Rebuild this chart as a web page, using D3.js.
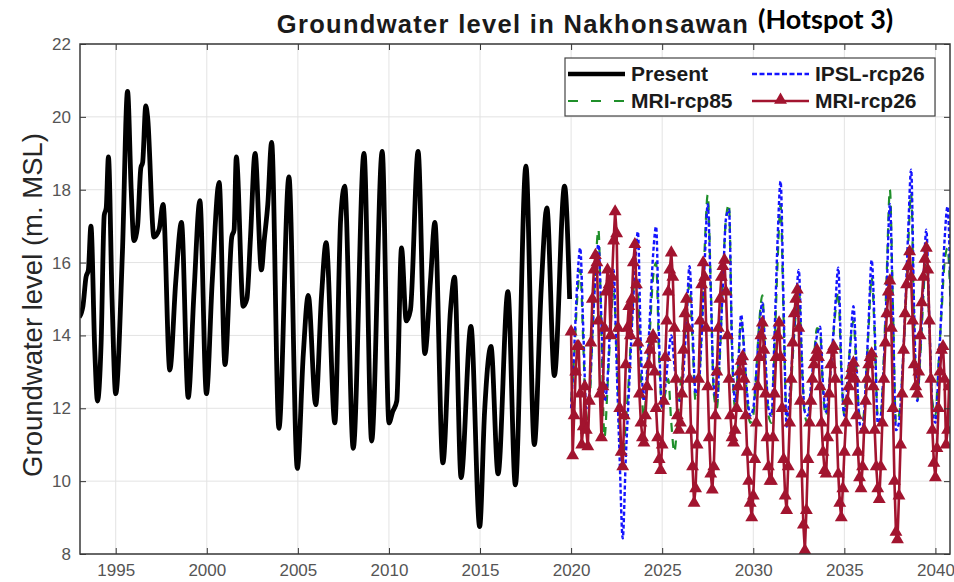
<!DOCTYPE html>
<html>
<head>
<meta charset="utf-8">
<script src="https://cdn.jsdelivr.net/npm/d3@7"></script>
<style>
    body { margin: 0; background: #fff; }
    #chart-div { width: 954px; height: 582px; }
</style>
</head>
<body>
<div id="chart-div"></div>
<script>
//---------------------------------//
// Data      //
//---------------------------------//

// observed record, turning points of the monthly series
const presentYears = [
    1993.0, 1993.2, 1993.37, 1993.5, 1993.64, 1993.85, 1994.0, 1994.2, 1994.37, 1994.48,
    1994.6, 1994.8, 1995.0, 1995.37, 1995.65, 1995.85, 1996.0, 1996.2, 1996.38, 1996.48,
    1996.65, 1996.75, 1997.1, 1997.38, 1997.6, 1997.97, 1998.3, 1998.61, 1998.98, 1999.3,
    1999.62, 1999.98, 2000.3, 2000.68, 2001.0, 2001.37, 2001.5, 2001.62, 2002.0, 2002.2,
    2002.4, 2002.65, 2003.0, 2003.15, 2003.35, 2003.56, 2003.96, 2004.51, 2004.97, 2005.3,
    2005.57, 2005.98, 2006.3, 2006.55, 2007.03, 2007.35, 2007.57, 2008.04, 2008.63, 2009.05,
    2009.63, 2010.0, 2010.2, 2010.43, 2010.69, 2010.95, 2011.18, 2011.6, 2011.97, 2012.28,
    2012.52, 2012.96, 2013.38, 2013.6, 2013.96, 2014.5, 2014.98, 2015.25, 2015.6, 2015.99,
    2016.53, 2016.94, 2017.52, 2017.98, 2018.36, 2018.67, 2019.08, 2019.64, 2019.92
];
const presentLevels = [
    14.5, 14.8, 15.6, 15.8, 17.0, 13.6, 12.2, 13.8, 17.3, 17.5,
    18.9, 15.0, 12.4, 16.3, 20.7, 18.0, 16.6, 17.0, 18.6, 18.75,
    20.3, 20.0, 16.7, 16.9, 17.6, 13.05, 15.5, 17.1, 12.3, 15.2,
    17.7, 12.4, 15.5, 18.2, 13.2, 16.7, 16.9, 18.9, 14.8, 15.0,
    16.7, 19.0, 15.8, 16.6, 17.6, 19.3, 11.45, 18.35, 10.35, 13.5,
    15.1, 12.1, 15.1, 16.55, 11.6, 17.2, 18.1, 10.9, 19.0, 11.1,
    19.05, 11.6, 11.9, 12.2, 16.4, 14.4, 14.7, 19.05, 13.5, 15.5,
    17.1, 10.5, 14.7, 15.6, 10.1, 14.25, 8.75, 11.9, 13.7, 10.2,
    15.2, 9.9, 18.65, 11.0, 15.3, 17.5, 12.9, 18.1, 15.0
];

const projStart = 2020;

// MRI-rcp26, monthly from Jan 2020 (one row per year)
const mriRcp26 = [
    14.1, 10.7, 11.8, 13.0, 13.7, 13.7, 12.4, 11.0, 11.5, 12.6, 11.4, 10.95,
    12.2, 13.8, 15.0, 15.8, 16.2, 16.0, 14.4, 12.4, 11.2, 12.6, 14.2, 15.2,
    15.8, 15.4, 14.0, 15.6, 16.6, 17.4, 16.8, 14.2, 12.0, 10.8, 10.4, 11.8,
    13.2, 14.2, 14.8, 14.0, 15.0, 16.0, 16.5, 15.4, 13.8, 12.4, 11.6, 11.2,
    11.05, 11.8, 12.6, 13.2, 13.6, 13.9, 14.0, 13.0, 12.0, 11.2, 10.6, 10.3,
    11.0, 12.2, 13.4, 14.4, 15.2, 15.8, 16.27, 15.6, 14.2, 12.8, 11.8, 11.4,
    11.6, 12.4, 13.6, 14.6, 15.0, 14.2, 12.8, 11.4, 10.4, 9.4, 9.8, 11.0,
    12.8, 14.4, 15.4, 16.0, 15.6, 14.2, 12.6, 11.2, 10.2, 9.76, 10.4, 11.8,
    13.0, 14.2, 15.0, 15.6, 15.9, 16.07, 15.2, 14.0, 12.8, 11.8, 11.2, 11.05,
    11.4, 12.0, 12.6, 13.0, 13.3, 13.42, 12.8, 11.8, 10.8, 10.0, 9.4, 9.0,
    9.6, 10.6, 11.6, 12.6, 13.4, 14.0, 14.35, 13.6, 12.4, 11.2, 10.4, 10.0,
    10.0, 11.2, 12.4, 13.4, 14.0, 14.35, 13.4, 12.0, 10.6, 9.6, 9.2, 10.4,
    11.6, 12.8, 13.8, 14.6, 15.0, 15.25, 14.2, 12.2, 10.2, 8.8, 8.1, 9.2,
    10.6, 11.6, 12.2, 12.8, 13.2, 13.4, 13.6, 13.4, 12.6, 11.6, 10.8, 10.3,
    10.2, 11.2, 12.4, 13.2, 13.6, 13.7, 12.8, 11.4, 10.2, 9.4, 9.0, 9.8,
    10.8, 11.6, 12.2, 12.6, 12.9, 13.1, 13.25, 12.8, 11.8, 10.8, 10.1, 9.8,
    10.4, 11.4, 12.2, 12.8, 13.2, 13.4, 13.5, 12.6, 11.4, 10.4, 9.8, 9.5,
    10.4, 11.6, 12.8, 13.8, 14.6, 15.2, 15.5, 14.2, 12.0, 10.0, 8.6, 8.4,
    9.6, 11.0, 12.4, 13.6, 14.6, 15.4, 15.9, 16.3, 15.6, 14.4, 13.2, 12.6,
    12.4, 13.0, 14.0, 14.9, 15.6, 16.1, 16.4, 15.8, 14.4, 12.8, 11.4, 10.5,
    10.1, 10.9, 12.0, 13.0, 13.6, 13.7, 12.8, 11.0, 11.4, 12.6
];

// IPSL-rcp26 and MRI-rcp85, every two months from Jan 2020
const ipslRcp26 = [
    12.0, 13.6, 15.4, 16.4, 14.2, 12.0,
    12.4, 14.0, 15.6, 16.5, 14.4, 12.2,
    12.8, 14.6, 15.8, 13.2, 10.6, 8.43,
    10.6, 12.4, 14.2, 15.8, 16.85, 13.6,
    12.2, 13.0, 14.6, 16.2, 16.99, 13.8,
    12.0, 12.6, 13.4, 14.0, 13.2, 12.4,
    12.2, 13.0, 14.4, 15.9, 14.2, 12.4,
    12.6, 14.0, 16.0, 17.6, 15.2, 12.6,
    12.2, 13.6, 15.4, 17.2, 17.45, 13.8,
    12.2, 13.0, 14.57, 13.6, 12.4, 11.8,
    12.0, 13.0, 14.2, 14.9, 13.4, 12.0,
    11.8, 14.0, 16.6, 18.23, 14.8, 11.5,
    12.4, 13.6, 14.8, 15.8, 13.4, 11.9,
    11.8, 12.6, 13.4, 14.0, 14.24, 12.6,
    11.9, 12.6, 13.6, 14.8, 15.86, 13.2,
    11.8, 12.6, 13.8, 14.8, 13.2, 11.6,
    11.4, 12.6, 14.4, 16.07, 14.2, 11.6,
    11.8, 13.2, 15.4, 17.6, 14.6, 11.4,
    11.6, 12.8, 14.6, 16.8, 18.55, 14.6,
    12.2, 13.6, 15.4, 16.9, 14.4, 12.0,
    11.6, 13.0, 14.8, 16.6, 17.54, 15.0
];
const mriRcp85 = [
    12.2, 13.4, 15.0, 15.8, 13.8, 11.6,
    12.0, 14.0, 15.8, 16.9, 14.0, 11.2,
    12.6, 14.2, 15.2, 13.6, 11.4, 10.6,
    11.6, 12.8, 14.4, 15.6, 15.2, 12.8,
    11.8, 12.8, 14.2, 15.6, 16.0, 13.4,
    12.0, 12.4, 12.8, 11.6, 10.8, 11.6,
    12.6, 13.4, 14.6, 15.4, 13.8, 12.2,
    12.6, 14.2, 16.4, 17.86, 15.4, 12.4,
    12.0, 13.4, 15.6, 17.2, 17.6, 13.6,
    12.0, 13.2, 14.4, 13.6, 12.2, 11.6,
    11.8, 13.0, 14.4, 15.1, 13.2, 11.8,
    11.6, 13.6, 16.0, 17.6, 14.4, 11.8,
    12.0, 13.4, 14.6, 15.4, 13.2, 11.8,
    11.6, 12.4, 13.4, 14.2, 14.1, 12.4,
    11.8, 12.6, 13.6, 14.6, 15.2, 13.0,
    11.8, 12.8, 13.8, 14.4, 13.0, 11.8,
    11.6, 12.6, 14.2, 15.6, 14.0, 11.8,
    11.8, 13.4, 15.8, 18.0, 14.8, 11.6,
    11.8, 12.8, 14.4, 16.4, 17.9, 14.2,
    12.2, 13.4, 15.0, 16.4, 14.2, 12.2,
    11.8, 13.2, 14.6, 16.0, 16.4, 14.8
];

const xTicks = [1995, 2000, 2005, 2010, 2015, 2020, 2025, 2030, 2035, 2040];
const yTicks = [8, 10, 12, 14, 16, 18, 20, 22];
const legendNames = ['Present', 'IPSL-rcp26', 'MRI-rcp85', 'MRI-rcp26'];


//---------------------------------//
// Chart Object                    //
//---------------------------------//

window.Vis = window.Vis || {};

Vis.init = function() {
    Vis.setup.initConsts();
    Vis.setup.initSvg();
    Vis.setup.initScales();

    Vis.core.drawGrid();
    Vis.core.drawSeries();
    Vis.core.drawAxes();
    Vis.core.drawLegend();
    Vis.core.drawText();
};

Vis.core = {
    drawGrid: function() {
        let g = Vis.svg.append('g').attr('class', 'grid');
        g.selectAll('.gx').data(xTicks).enter().append('line')
            .attr('x1', d => Vis.x(d)).attr('x2', d => Vis.x(d))
            .attr('y1', Vis.top).attr('y2', Vis.bottom)
            .attr('stroke', '#e3e3e3').attr('stroke-width', 1);
        g.selectAll('.gy').data(yTicks).enter().append('line')
            .attr('x1', Vis.left).attr('x2', Vis.right)
            .attr('y1', d => Vis.y(d)).attr('y2', d => Vis.y(d))
            .attr('stroke', '#e3e3e3').attr('stroke-width', 1);
    },

    drawSeries: function() {
        let plot = Vis.svg.append('g').attr('clip-path', 'url(#plot-clip)');

        let present = presentYears.map((t, i) => [t, presentLevels[i]]);
        let rcp85 = mriRcp85.map((v, i) => [projStart + i/6, v]);
        let ipsl = ipslRcp26.map((v, i) => [projStart + i/6, v]);
        let mri26 = mriRcp26.map((v, i) => [projStart + i/12, v]);

        let smooth = d3.line().x(d => Vis.x(d[0])).y(d => Vis.y(d[1])).curve(d3.curveMonotoneX);
        let straight = d3.line().x(d => Vis.x(d[0])).y(d => Vis.y(d[1]));

        plot.append('path').datum(present).attr('d', smooth)
            .attr('fill', 'none').attr('stroke', Vis.colors.present)
            .attr('stroke-width', 4.8).attr('stroke-linejoin', 'round');

        plot.append('path').datum(rcp85).attr('d', smooth)
            .attr('fill', 'none').attr('stroke', Vis.colors.rcp85)
            .attr('stroke-width', 2.2).attr('stroke-dasharray', '9,7');

        plot.append('path').datum(ipsl).attr('d', smooth)
            .attr('fill', 'none').attr('stroke', Vis.colors.ipsl)
            .attr('stroke-width', 2.4).attr('stroke-dasharray', '4,2.5');

        plot.append('path').datum(mri26).attr('d', straight)
            .attr('fill', 'none').attr('stroke', Vis.colors.mri26)
            .attr('stroke-width', 2.6);

        plot.selectAll('.tri').data(mri26).enter().append('path')
            .attr('d', Vis.triangle)
            .attr('transform', d => 'translate(' + Vis.x(d[0]) + ',' + Vis.y(d[1]) + ')')
            .attr('fill', Vis.colors.mri26);
    },

    drawAxes: function() {
        let axisStyle = function(g) {
            g.select('.domain').remove();
            g.selectAll('.tick line').attr('stroke', '#333').attr('stroke-width', 1);
            g.selectAll('.tick text')
                .attr('fill', '#555')
                .attr('font-family', 'Liberation Sans, Arial, sans-serif')
                .attr('font-size', 17);
        };

        Vis.svg.append('g')
            .attr('transform', 'translate(0,' + Vis.bottom + ')')
            .call(d3.axisBottom(Vis.x).tickValues(xTicks).tickFormat(d3.format('d')).tickSize(-6).tickPadding(10))
            .call(axisStyle);
        Vis.svg.append('g')
            .attr('transform', 'translate(0,' + Vis.top + ')')
            .call(d3.axisTop(Vis.x).tickValues(xTicks).tickFormat('').tickSize(-6))
            .call(axisStyle);
        Vis.svg.append('g')
            .attr('transform', 'translate(' + Vis.left + ',0)')
            .call(d3.axisLeft(Vis.y).tickValues(yTicks).tickSize(-6).tickPadding(9))
            .call(axisStyle);
        Vis.svg.append('g')
            .attr('transform', 'translate(' + Vis.right + ',0)')
            .call(d3.axisRight(Vis.y).tickValues(yTicks).tickFormat('').tickSize(-6))
            .call(axisStyle);

        // box
        Vis.svg.append('rect')
            .attr('x', Vis.left).attr('y', Vis.top)
            .attr('width', Vis.right - Vis.left).attr('height', Vis.bottom - Vis.top)
            .attr('fill', 'none').attr('stroke', '#3a3a3a').attr('stroke-width', 1.5);
    },

    drawLegend: function() {
        let lg = Vis.svg.append('g').attr('class', 'legend');
        lg.append('rect')
            .attr('x', 565).attr('y', 58).attr('width', 370).attr('height', 58)
            .attr('fill', '#fff').attr('stroke', '#444').attr('stroke-width', 1.2);

        let items = [
            {name: legendNames[0], col: 0, row: 0, color: Vis.colors.present, w: 4.5, dash: null},
            {name: legendNames[1], col: 1, row: 0, color: Vis.colors.ipsl, w: 2.4, dash: '5,2.5'},
            {name: legendNames[2], col: 0, row: 1, color: Vis.colors.rcp85, w: 2.2, dash: '10,13'},
            {name: legendNames[3], col: 1, row: 1, color: Vis.colors.mri26, w: 2.6, dash: null, marker: true}
        ];
        let colX = [568, 752];
        let rowY = [74, 101];

        items.forEach(function(it) {
            let x0 = colX[it.col], yy = rowY[it.row];
            let ln = lg.append('line')
                .attr('x1', x0).attr('x2', x0 + 57)
                .attr('y1', yy).attr('y2', yy)
                .attr('stroke', it.color).attr('stroke-width', it.w);
            if (it.dash) ln.attr('stroke-dasharray', it.dash);
            if (it.marker) {
                lg.append('path').attr('d', Vis.triangle)
                    .attr('transform', 'translate(' + (x0 + 28.5) + ',' + (yy - 1) + ')')
                    .attr('fill', it.color);
            }
            lg.append('text')
                .attr('x', x0 + 63).attr('y', yy + 7)
                .attr('font-family', 'Liberation Sans, Arial, sans-serif')
                .attr('font-weight', 'bold').attr('font-size', 21)
                .attr('fill', '#1a1a1a')
                .text(it.name);
        });
    },

    drawText: function() {
        Vis.svg.append('text')
            .attr('x', 513).attr('y', 33)
            .attr('text-anchor', 'middle')
            .attr('font-family', 'Liberation Sans, Arial, sans-serif')
            .attr('font-weight', 'bold').attr('font-size', 25.5)
            .attr('letter-spacing', 1.3)
            .attr('fill', '#1a1a1a')
            .text('Groundwater level in Nakhonsawan');

        Vis.svg.append('text')
            .attr('x', 758).attr('y', 29)
            .attr('font-family', 'Lato, Open Sans, sans-serif')
            .attr('font-weight', 'bold').attr('font-size', 27)
            .attr('fill', '#000')
            .text('(Hotspot 3)');

        Vis.svg.append('text')
            .attr('transform', 'translate(42,305) rotate(-90)')
            .attr('text-anchor', 'middle')
            .attr('font-family', 'Liberation Sans, Arial, sans-serif')
            .attr('font-size', 27.5)
            .attr('fill', '#262626')
            .text('Groundwater level (m. MSL)');
    }
};

Vis.setup = {
    initConsts: function() {
        Vis.width = 954;
        Vis.height = 582;

        Vis.left = 80;
        Vis.right = 950;
        Vis.top = 44;
        Vis.bottom = 554;

        Vis.colors = {
            present: '#000000',
            ipsl: '#1414ff',
            rcp85: '#1f8f2a',
            mri26: '#a2142f'
        };

        Vis.triangle = d3.symbol().type(d3.symbolTriangle).size(72);
    },

    initSvg: function() {
        Vis.svg = d3.select('#chart-div').append('svg')
            .attr('width', Vis.width)
            .attr('height', Vis.height);

        Vis.svg.append('defs').append('clipPath').attr('id', 'plot-clip')
            .append('rect')
            .attr('x', Vis.left).attr('y', Vis.top)
            .attr('width', Vis.right - Vis.left).attr('height', Vis.bottom - Vis.top);
    },

    initScales: function() {
        Vis.x = d3.scaleLinear()
            .domain([1993.04, 2040.8])
            .range([Vis.left, Vis.right]);
        Vis.y = d3.scaleLinear()
            .domain([8, 22])
            .range([Vis.bottom, Vis.top]);
    }
};

document.addEventListener('DOMContentLoaded', Vis.init);
</script>
</body>
</html>
